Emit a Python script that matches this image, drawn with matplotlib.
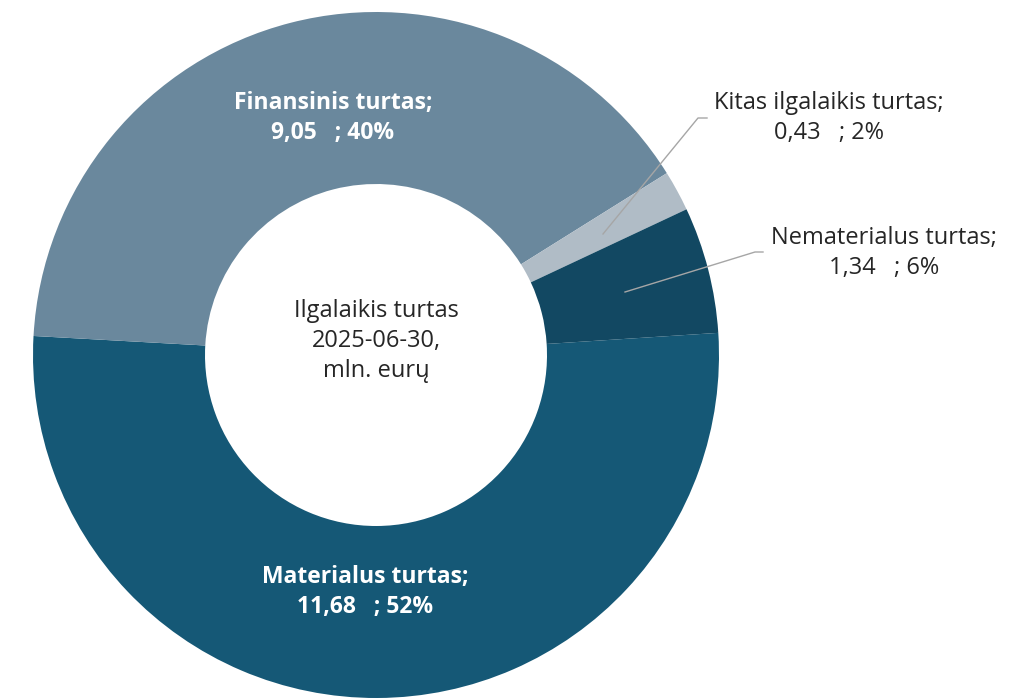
import matplotlib
matplotlib.use("Agg")
import matplotlib.pyplot as plt

# ── Data ───────────────────────────────────────────────────────────────────
categories = ["Materialus turtas", "Finansinis turtas",
              "Kitas ilgalaikis turtas", "Nematerialus turtas"]
values = [11.68, 9.05, 0.43, 1.34]
colors = ["#155876", "#6a889d", "#b0bcc6", "#124862"]
center_title = "Ilgalaikis turtas\n2025-06-30,\nmln. eurų"

plt.rcParams["font.family"] = ["Open Sans", "DejaVu Sans"]

W, H = 1017, 698
fig = plt.figure(figsize=(W / 100, H / 100), dpi=100)
ax = fig.add_axes([0, 0, 1, 1])
ax.axis("off")


def py(y):
    # pixel row (from top) -> axes y
    return H - y


cx, cy, r_out, r_in = 376, 355, 343, 171
ax.pie(values, colors=colors, startangle=3.7, counterclock=False,
       center=(cx, py(cy)), radius=r_out,
       wedgeprops=dict(width=r_out - r_in, linewidth=0))
ax.set_xlim(0, W)
ax.set_ylim(0, H)
ax.set_aspect("equal")

total = sum(values)


def label(i):
    v = f"{values[i]:.2f}".replace(".", ",")
    return f"{categories[i]};\n{v}   ; {round(values[i] / total * 100)}%"


FS = 17
LS = 1.36

# labels inside slices (white, bold)
ax.text(333, py(118), label(1), ha="center", va="center", color="white",
        fontsize=16.5, fontweight="bold", linespacing=LS)
ax.text(365, py(592), label(0), ha="center", va="center", color="white",
        fontsize=16.5, fontweight="bold", linespacing=LS)

# outside labels with leader lines
ax.text(829, py(118), label(2), ha="center", va="center", color="#262626",
        fontsize=FS, linespacing=LS)
ax.text(884, py(253), label(3), ha="center", va="center", color="#262626",
        fontsize=FS, linespacing=LS)
ax.plot([707, 698, 603], [py(118), py(118), py(234)], color="#a6a6a6", lw=1)
ax.plot([763, 755, 625], [py(252), py(252), py(292)], color="#a6a6a6", lw=1)

# centre text
ax.text(cx, py(341), center_title, ha="center", va="center", color="#262626",
        fontsize=FS, linespacing=LS)

fig.savefig("out.png", dpi=100)
